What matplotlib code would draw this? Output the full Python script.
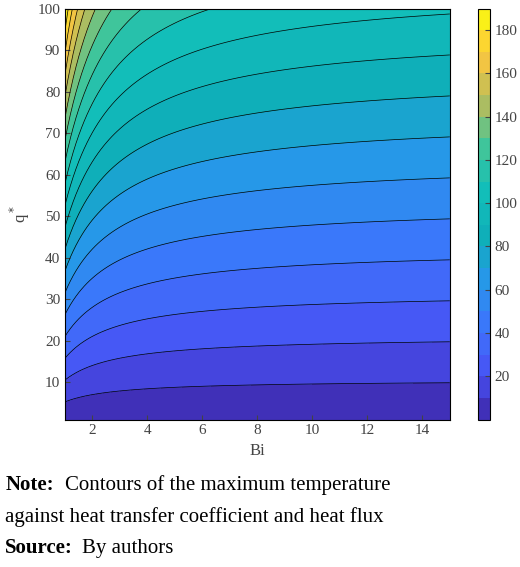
import numpy as np
import matplotlib
matplotlib.use("Agg")
import matplotlib.pyplot as plt
from matplotlib.colors import LinearSegmentedColormap

plt.rcParams['font.family'] = ['Liberation Serif']

bi_values = np.linspace(1, 15, 141)
q_values = np.linspace(1, 100, 199)
coef_base = 0.95
coef_bi = 0.95
levels = list(range(0, 200, 10))
cbar_ticks = [20, 40, 60, 80, 100, 120, 140, 160, 180]

parula = [(0.2422, 0.1504, 0.6603), (0.2810, 0.3228, 0.9579), (0.2389, 0.4556, 0.9862),
          (0.1540, 0.5902, 0.9218), (0.0590, 0.6838, 0.7254), (0.0704, 0.7457, 0.7258),
          (0.2586, 0.7753, 0.5992), (0.7248, 0.7354, 0.3560), (0.9932, 0.7812, 0.2437),
          (0.9763, 0.9831, 0.0538)]
cmap = LinearSegmentedColormap.from_list("parula", parula)

B, Q = np.meshgrid(bi_values, q_values)
T = Q * (coef_base + coef_bi / B)

fig = plt.figure(figsize=(5.2, 5.67), dpi=100)
ax = fig.add_axes([0.125, 0.26, 0.74, 0.725])
cax = fig.add_axes([0.92, 0.26, 0.022, 0.725])
cf = ax.contourf(B, Q, T, levels=levels, cmap=cmap, vmin=0, vmax=190)
ax.contour(B, Q, T, levels=levels, colors='k', linewidths=0.5)
ax.set_xlim(1, 15)
ax.set_ylim(1, 100)
ax.set_xticks([2, 4, 6, 8, 10, 12, 14])
ax.set_yticks(range(10, 101, 10))
ax.set_xlabel("Bi", fontsize=12, color='#444444')
ax.set_ylabel("q$^*$", fontsize=12, color='#444444')
ax.tick_params(labelsize=11, colors='#444444', direction='in')
cb = fig.colorbar(cf, cax=cax, ticks=cbar_ticks)
cb.ax.tick_params(labelsize=11, colors='#444444', direction='in')

fig.text(0.01, 0.135, "Note:", fontsize=15, fontweight='bold')
fig.text(0.125, 0.135, "Contours of the maximum temperature", fontsize=15)
fig.text(0.01, 0.08, "against heat transfer coefficient and heat flux", fontsize=15)
fig.text(0.01, 0.025, "Source:", fontsize=15, fontweight='bold')
fig.text(0.158, 0.025, "By authors", fontsize=15)
fig.savefig("out.png", dpi=100)
